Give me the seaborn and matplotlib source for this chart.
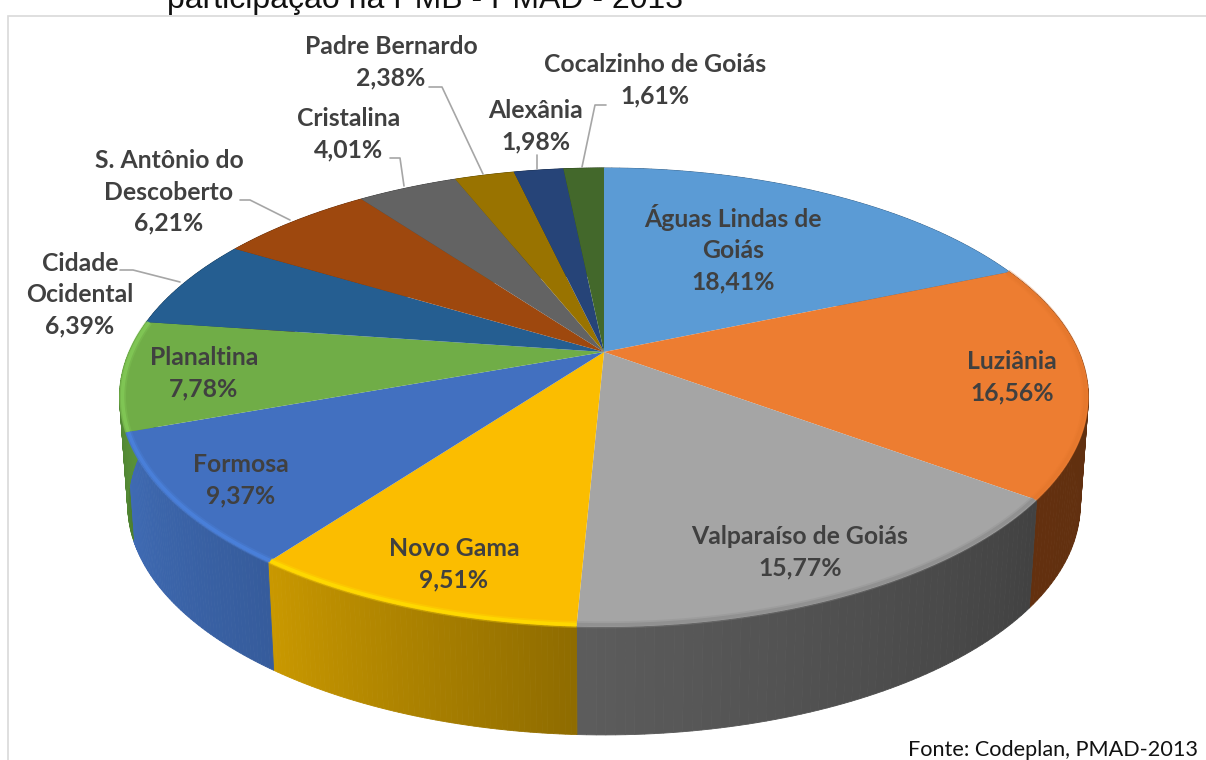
import numpy as np
import seaborn as sns
import matplotlib
matplotlib.use("Agg")
import matplotlib.pyplot as plt
from matplotlib.patches import Rectangle

# municipios and their share, clockwise from 12 o'clock
cidades = ["Águas Lindas de\nGoiás", "Luziânia", "Valparaíso de Goiás", "Novo Gama", "Formosa", "Planaltina",
           "Cidade\nOcidental", "S. Antônio do\nDescoberto", "Cristalina", "Padre Bernardo", "Alexânia", "Cocalzinho de Goiás"]
valores = [18.41, 16.56, 15.77, 9.51, 9.37, 7.78, 6.39, 6.21, 4.01, 2.38, 1.98, 1.61]
titulo = "participação na PMB - PMAD - 2013"
fonte = "Fonte: Codeplan, PMAD-2013"

cores = ["#5B9BD5", "#ED7D31", "#A5A5A5", "#FBBD00", "#4270C0", "#70AD47",
         "#255E91", "#9E480E", "#636363", "#997300", "#264478", "#43682B"]
# side wall colours, left to right of each slice
lado_esq = ["#3A658C", "#63300F", "#5C5C5C", "#C99800", "#3F6BB4", "#5F9A3C",
            "#1A4060", "#6A300A", "#444444", "#665000", "#1A2E50", "#2D461D"]
lado_dir = ["#3A658C", "#5E3011", "#424242", "#8F6C00", "#365C9C", "#4C7F30",
            "#1A4060", "#6A300A", "#444444", "#665000", "#1A2E50", "#2D461D"]
brilho = ["#5B9BD5", "#E5772D", "#8C8C8C", "#FFE000", "#4C84E0", "#84CC58",
          "#255E91", "#9E480E", "#636363", "#997300", "#264478", "#43682B"]

# label centres and leader lines, in image pixels
pos_rotulos = [(733, 249), (1012, 377), (800, 552), (454, 564), (241, 480), (204, 373),
               (80, 295), (169, 192), (349, 134), (391, 62), (536, 126), (655, 80)]
guias = [[(429, 87), (442, 87), (483, 174)], [(390, 158), (400, 158), (404, 186)],
         [(240, 200), (250, 200), (290, 220)], [(120, 270), (133, 270), (180, 282)],
         [(537, 155), (537, 169)], [(606, 105), (595, 105), (582, 167)]]

# perspective of the disc
CX, CY = 604, 352
A, B = 476, 220.5
KX, KY = 0.186, 0.198
ALTURA = 108


def borda(t, raio=1.0):
    # t is the clockwise angle from the top, circle goes through a homography
    u = raio * np.sin(t)
    v = raio * np.cos(t)
    return CX + A * u / (1 + KX * v), CY - B * v / (1 + KY * v) + 2.5 * u ** 2


def base(t):
    x, y = borda(t)
    return CX + 0.983 * (x - CX), y + ALTURA


sns.set_theme(style="white")
plt.rcParams["font.family"] = ["Lato", "DejaVu Sans"]

fig = plt.figure(figsize=(12.06, 7.6), dpi=100)
ax = fig.add_axes([0, 0, 1, 1])
ax.set_xlim(0, 1206)
ax.set_ylim(760, 0)
ax.axis("off")

ax.text(167, 8, titulo, fontsize=23, family="Liberation Sans", color="#111111", ha="left", va="baseline", zorder=1)
ax.add_patch(Rectangle((7.5, 15.5), 1300, 800, facecolor="white", edgecolor="#D9D9D9", lw=1.2, zorder=2))

limites = np.cumsum([0] + valores) / sum(valores) * 2 * np.pi

# side wall first, top goes over it
for i in range(len(valores)):
    ts = np.linspace(limites[i], limites[i + 1], 60)
    # clockwise on the front means moving right to left
    grad = sns.blend_palette([lado_dir[i], lado_esq[i]], len(ts) - 1)
    for j in range(len(ts) - 1):
        x1, y1 = borda(ts[j:j + 2])
        x2, y2 = base(ts[j:j + 2])
        ax.fill(np.r_[x1, x2[::-1]], np.r_[y1, y2[::-1]], color=grad[j], lw=0.6, zorder=3)

for i in range(len(valores)):
    ts = np.linspace(limites[i], limites[i + 1], 80)
    x, y = borda(ts)
    ax.fill(np.r_[CX, x], np.r_[CY, y], color=cores[i], lw=0, zorder=4)
    # soft bevel along the front edge, wide faint pass then narrow one
    if np.cos(limites[i]) < 0.1 or np.cos(limites[i + 1]) < 0.1:
        xb, yb = borda(ts, 0.994)
        ax.plot(xb, yb, color=brilho[i], lw=5, alpha=0.3, solid_capstyle="butt", zorder=5)
        ax.plot(xb, yb, color=brilho[i], lw=2.5, alpha=0.7, solid_capstyle="butt", zorder=5)

for linha in guias:
    ax.plot(*zip(*linha), color="#A6A6A6", lw=1.2, zorder=6)

for nome, v, (px, py) in zip(cidades, valores, pos_rotulos):
    rotulo = nome + "\n" + f"{v:.2f}%".replace(".", ",")
    ax.text(px, py, rotulo, fontsize=17.8, fontweight="bold", color="#404040", ha="center", va="center",
            linespacing=1.44, zorder=7)

ax.text(1198, 750, fonte, fontsize=15.6, color="#111111", ha="right", va="center", zorder=7)

fig.savefig("out.png", dpi=100)
